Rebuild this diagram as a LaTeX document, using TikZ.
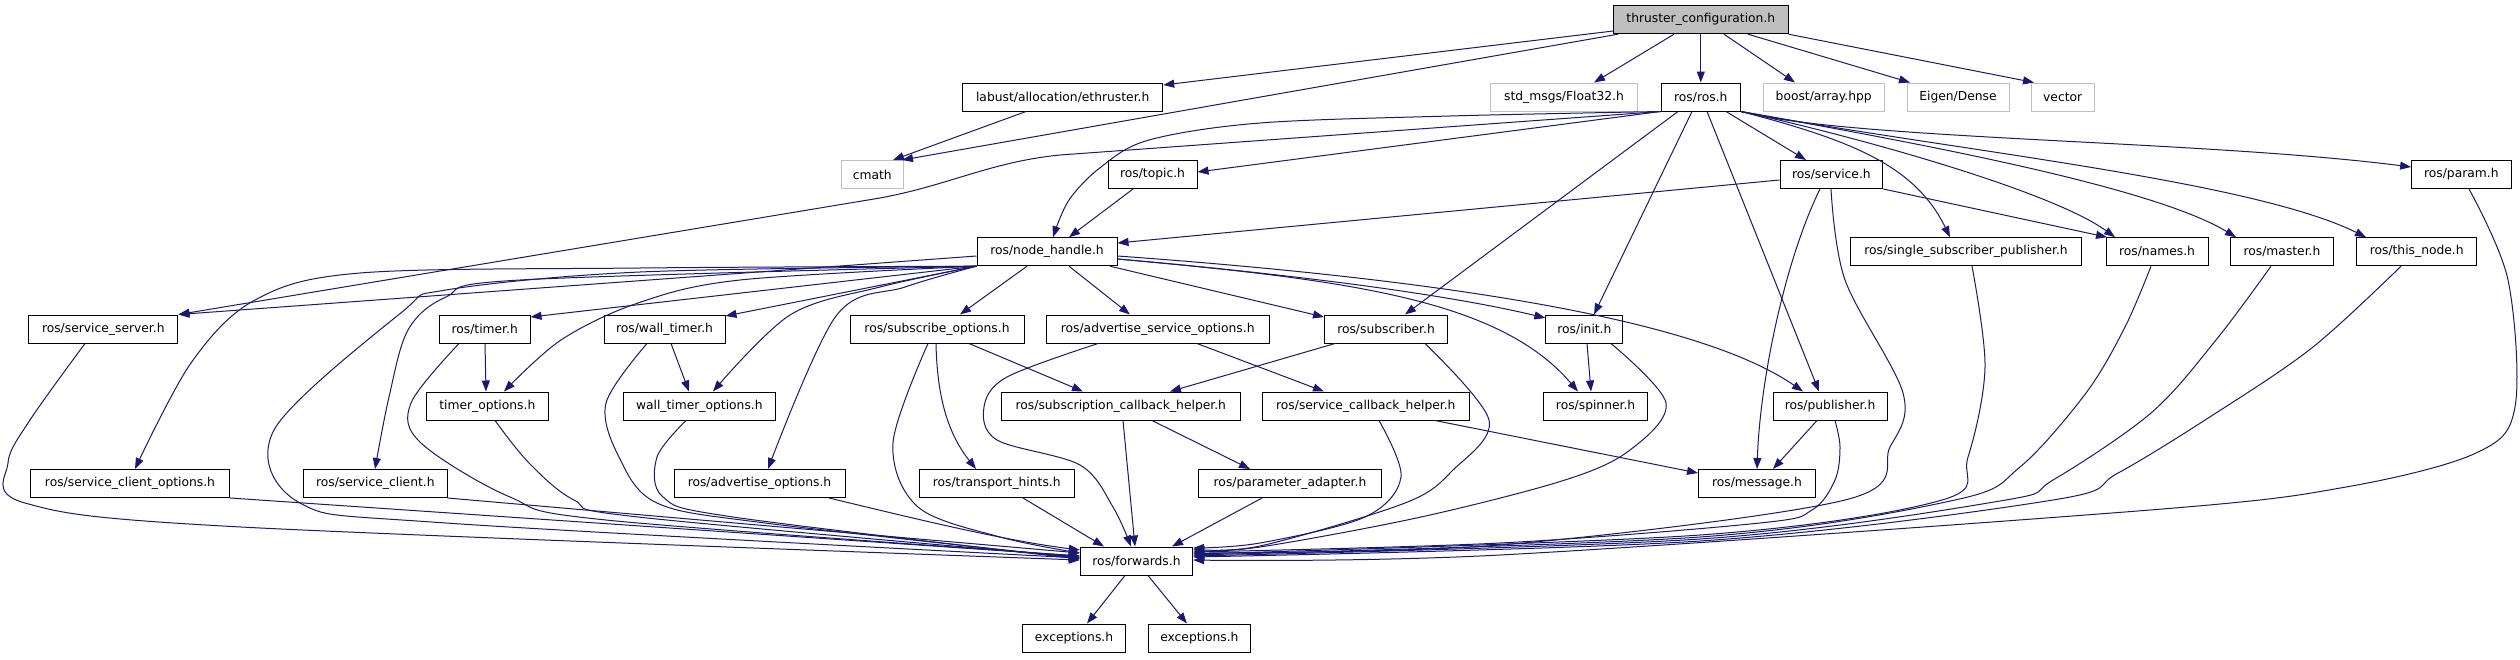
\documentclass[tikz,border=0pt]{standalone}
\usepackage{fontspec}
\setmainfont{DejaVu Sans}
\usetikzlibrary{arrows.meta}
\definecolor{edgec}{HTML}{191970}
\definecolor{extc}{HTML}{BFBFBF}
\newcommand\dxfont{\fontsize{12.3}{14}\selectfont}
\begin{document}
\begin{tikzpicture}[x=1pt,y=-1pt,
  box/.style={draw=black, line width=1pt, minimum height=28pt, inner sep=0pt, font=\dxfont, fill=white},
  extbox/.style={box, draw=extc},
  topbox/.style={box, fill=extc},
  e/.style={draw=edgec, line width=1pt, -{Triangle[length=11pt,width=8pt]}},
  sm/.style={smooth, tension=0.55}]
\useasboundingbox[fill=white] (0,0) rectangle (2520,659);
% row 0
\node[topbox, minimum width=174.4pt] (tc) at (1700.8,19.7) {thruster\_configuration.h};
% row 1
\node[box, minimum width=200pt] (lab) at (1062.7,97) {labust/allocation/ethruster.h};
\node[extbox, minimum width=147pt] (f32) at (1564,97) {std\_msgs/Float32.h};
\node[box, minimum width=79.5pt] (ros) at (1700.8,97) {ros/ros.h};
\node[extbox, minimum width=121.4pt] (boost) at (1823.7,97) {boost/array.hpp};
\node[extbox, minimum width=102pt] (eigen) at (1958,97) {Eigen/Dense};
\node[extbox, minimum width=62.6pt] (vec) at (2062.7,97) {vector};
% row 2
\node[extbox, minimum width=61.8pt] (cmath) at (872.3,174.5) {cmath};
\node[box, minimum width=89pt] (topic) at (1152.5,174.5) {ros/topic.h};
\node[box, minimum width=102.8pt] (service) at (1831.4,174.5) {ros/service.h};
\node[box, minimum width=99.4pt] (param) at (2461.3,174.5) {ros/param.h};
% row 3
\node[box, minimum width=140pt] (nh) at (1047,251.7) {ros/node\_handle.h};
\node[box, minimum width=231pt] (ssp) at (1966,251.7) {ros/single\_subscriber\_publisher.h};
\node[box, minimum width=102pt] (names) at (2157,251.7) {ros/names.h};
\node[box, minimum width=102.8pt] (master) at (2282,251.7) {ros/master.h};
\node[box, minimum width=119.7pt] (thisnode) at (2416.7,251.7) {ros/this\_node.h};
% row 4
\node[box, minimum width=149.3pt] (ssrv) at (103.3,329) {ros/service\_server.h};
\node[box, minimum width=90.6pt] (timer) at (484.7,329) {ros/timer.h};
\node[box, minimum width=121pt] (wtimer) at (664.5,329) {ros/wall\_timer.h};
\node[box, minimum width=174pt] (subopt) at (937,329) {ros/subscribe\_options.h};
\node[box, minimum width=222.7pt] (adsopt) at (1157.7,329) {ros/advertise\_service\_options.h};
\node[box, minimum width=123pt] (sub) at (1386,329) {ros/subscriber.h};
\node[box, minimum width=77pt] (init) at (1584.4,329) {ros/init.h};
% row 5
\node[box, minimum width=122.5pt] (topt) at (487.3,406) {timer\_options.h};
\node[box, minimum width=152.5pt] (wtopt) at (699.3,406) {wall\_timer\_options.h};
\node[box, minimum width=238.4pt] (sch) at (1120.8,406) {ros/subscription\_callback\_helper.h};
\node[box, minimum width=207.5pt] (svch) at (1365.8,406) {ros/service\_callback\_helper.h};
\node[box, minimum width=104pt] (spinner) at (1595.6,406) {ros/spinner.h};
\node[box, minimum width=114pt] (pub) at (1830,406) {ros/publisher.h};
% row 6
\node[box, minimum width=199pt] (sco) at (130,483.5) {ros/service\_client\_options.h};
\node[box, minimum width=143.5pt] (sc) at (375.3,483.5) {ros/service\_client.h};
\node[box, minimum width=171pt] (ado) at (759.5,483.5) {ros/advertise\_options.h};
\node[box, minimum width=154.7pt] (th) at (996.7,483.5) {ros/transport\_hints.h};
\node[box, minimum width=183.4pt] (pa) at (1290,483.5) {ros/parameter\_adapter.h};
\node[box, minimum width=117pt] (msg) at (1757,483.5) {ros/message.h};
% row 7
\node[box, minimum width=112.4pt] (fw) at (1136.5,561) {ros/forwards.h};
% row 8
\node[box, minimum width=103.4pt] (ex1) at (1074,638) {exceptions.h};
\node[box, minimum width=102.7pt] (ex2) at (1199.4,638) {exceptions.h};

% ---- edges from thruster_configuration.h
\draw[e] (tc.west |- 0,31) -- (lab.east |- 0,85);
\draw[e] (tc.south -| 1618,0) -- (cmath.north -| 902,0);
\draw[e] (tc.south -| 1674,0) -- (f32.north -| 1594,0);
\draw[e] (tc.south) -- (ros.north);
\draw[e] (tc.south -| 1724,0) -- (boost.north -| 1795,0);
\draw[e] (tc.south -| 1748,0) -- (eigen.north -| 1910,0);
\draw[e] (tc.south east) -- (vec.north -| 2034,0);
\draw[e] (lab.south -| 1026,0) -- (cmath.north -| 893,0);

% ---- edges from ros/ros.h
\draw[e] (ros.south west) -- (topic.east |- 0,172);
\draw[e] plot[sm] coordinates {(ros.south west) (1450,116) (1260,123) (1149,140) (1101,167) (1069,200) (nh.north -| 1053,0)};
\draw[e] (ros.south west) -- (1060,155) .. controls (990,162) and (950,185) .. (880,198) -- (ssrv.north east);
\draw[e] (ros.south -| 1726,0) -- (service.north -| 1806,0);
\draw[e] (ros.south east) .. controls (1850,140) and (1915,165) .. (ssp.north -| 1950,0);
\draw[e] (ros.south east) .. controls (1850,135) and (2050,190) .. (names.north -| 2115,0);
\draw[e] (ros.south east) .. controls (1900,140) and (2150,185) .. (master.north -| 2236,0);
\draw[e] (ros.south east) .. controls (1950,150) and (2250,180) .. (thisnode.north -| 2366,0);
\draw[e] (ros.south east) .. controls (1850,140) and (2200,140) .. (param.west |- 0,167);
\draw[e] (ros.south -| 1678,0) -- (sub.north -| 1405,0);
\draw[e] (ros.south -| 1692,0) -- (init.north -| 1594,0);
\draw[e] (ros.south -| 1707,0) -- (pub.north -| 1819,0);

% ---- edges from ros/service.h
\draw[e] (service.west |- 0,180) -- (nh.east |- 0,243);
\draw[e] (service.south east) -- (names.north -| 2107,0);
\draw[e] (service.south -| 1820,0) .. controls (1785,260) and (1760,380) .. (msg.north -| 1757,0);
\draw[e] plot[sm] coordinates {(service.south -| 1831,0) (1845,280) (1903,393) (1890,447) (1845,500) (1500,545) (fw.east |- 0,553)};

% ---- into forwards from the right
\draw[e] plot[sm] coordinates {(ssp.south -| 1972,0) (1985,367) (1968,457) (1942,500) (1700,535) (fw.east |- 0,554)};
\draw[e] plot[sm] coordinates {(names.south -| 2151,0) (2125,327) (2086,393) (2020,467) (1955,500) (1700,537) (fw.east |- 0,555)};
\draw[e] plot[sm] coordinates {(master.south -| 2271,0) (2216,340) (2151,413) (2053,480) (2000,501) (1700,539) (fw.east |- 0,556)};
\draw[e] plot[sm] coordinates {(thisnode.south -| 2401,0) (2313,347) (2216,413) (2118,473) (2053,500) (1700,541) (fw.east |- 0,557)};
\draw[e] plot[sm] coordinates {(param.south -| 2469,0) (2508,280) (2515,407) (2476,453) (2346,487) (2150,510) (1500,555) (fw.east |- 0,560)};
\draw[e] plot[sm] coordinates {(pub.south -| 1835,0) (1840,447) (1835,480) (1812,510) (1760,523) (1500,543) (fw.east |- 0,552)};
\draw[e] plot[sm] coordinates {(init.south -| 1611,0) (1666,403) (1630,450) (1565,480) (1421,517) (1260,547) (fw.east |- 0,551)};
\draw[e] plot[sm] coordinates {(sub.south -| 1425,0) (1489,420) (1453,470) (1405,503) (1260,546) (fw.east |- 0,549)};
\draw[e] plot[sm] coordinates {(svch.south -| 1379,0) (1401,477) (1365,517) (1260,543) (fw.east |- 0,548)};

% ---- edges from ros/node_handle.h
\draw[e] (nh.west |- 0,256) -- (ssrv.north east);
\draw[e] plot[sm] coordinates {(nh.south west) (640,268) (360,273) (255,300) (191,363) (sco.north -| 135,0)};
\draw[e] plot[sm] coordinates {(nh.south west) (640,272) (446,290) (402,312) (274,430) (300,503) (446,523) (fw.west |- 0,558)};
\draw[e] plot[sm] coordinates {(nh.south west) (520,280) (446,297) (408,330) (389,397) (sc.north -| 375,0)};
\draw[e] (nh.south west) -- (timer.east |- 0,317);
\draw[e] plot[sm] coordinates {(nh.south west) (740,280) (638,303) (561,340) (topt.north -| 504,0)};
\draw[e] (nh.south west) -- (wtimer.east |- 0,316);
\draw[e] plot[sm] coordinates {(nh.south west) (880,287) (790,315) (wtopt.north -| 713,0)};
\draw[e] plot[sm] coordinates {(nh.south west) (905,287) (836,316) (ado.north -| 768,0)};
\draw[e] (nh.south -| 1027,0) -- (subopt.north -| 960,0);
\draw[e] (nh.south -| 1069,0) -- (adsopt.north -| 1130,0);
\draw[e] (nh.south -| 1110,0) -- (sub.west |- 0,317);
\draw[e] (nh.east |- 0,259) .. controls (1300,275) and (1450,295) .. (init.west |- 0,318);
\draw[e] (nh.east |- 0,259) .. controls (1350,280) and (1500,300) .. (spinner.north -| 1578,0);
\draw[e] (nh.east |- 0,256) .. controls (1450,280) and (1700,320) .. (pub.north -| 1803,0);

\draw[e] (topic.south -| 1133,0) -- (nh.north -| 1069,0);

% ---- into forwards from the left
\draw[e] plot[sm] coordinates {(ssrv.south -| 85,0) (30,420) (8,463) (25,503) (241,527) (fw.west |- 0,560)};
\draw[e] (sco.south east) -- (fw.west |- 0,556);
\draw[e] (sc.south east) -- (fw.west |- 0,553);
\draw[e] plot[sm] coordinates {(timer.south -| 459,0) (411,403) (421,443) (510,497) (606,520) (fw.west |- 0,556)};
\draw[e] plot[sm] coordinates {(topt.south -| 495,0) (529,463) (574,500) (638,517) (fw.west |- 0,557)};
\draw[e] plot[sm] coordinates {(wtimer.south -| 647,0) (606,403) (619,457) (657,503) (765,523) (fw.west |- 0,558)};
\draw[e] plot[sm] coordinates {(wtopt.south -| 686,0) (657,457) (663,497) (733,517) (fw.west |- 0,559)};
\draw[e] (ado.south -| 829,0) .. controls (900,515) and (1000,540) .. (fw.west |- 0,550);
\draw[e] plot[sm] coordinates {(subopt.south -| 928,0) (893,443) (918,507) (1000,537) (fw.west |- 0,553)};

% ---- other edges
\draw[e] (timer.south -| 485,0) -- (topt.north -| 486,0);
\draw[e] (wtimer.south -| 671,0) -- (wtopt.north -| 689,0);
\draw[e] (subopt.south -| 936,0) .. controls (937,390) and (945,430) .. (th.north -| 976,0);
\draw[e] (subopt.south -| 969,0) -- (sch.north -| 1083,0);
\draw[e] (adsopt.south -| 1197,0) -- (svch.north -| 1324,0);
\draw[e] plot[sm] coordinates {(adsopt.south -| 1098,0) (1007,377) (984,407) (997,440) (1080,465) (1113,507) (fw.north -| 1131,0)};
\draw[e] (sub.south -| 1335,0) -- (sch.north -| 1170,0);
\draw[e] (sch.south -| 1123,0) -- (fw.north -| 1135,0);
\draw[e] (sch.south -| 1152,0) -- (pa.north -| 1250,0);
\draw[e] (th.south -| 1023,0) -- (fw.north -| 1104,0);
\draw[e] (pa.south -| 1262,0) -- (fw.north -| 1172,0);
\draw[e] (svch.south -| 1435,0) -- (msg.west |- 0,473);
\draw[e] (pub.south -| 1817,0) -- (msg.north -| 1773,0);
\draw[e] (init.south -| 1587,0) -- (spinner.north -| 1591,0);
\draw[e] (fw.south -| 1125,0) -- (ex1.north -| 1087,0);
\draw[e] (fw.south -| 1148,0) -- (ex2.north -| 1187,0);
\end{tikzpicture}
\end{document}
